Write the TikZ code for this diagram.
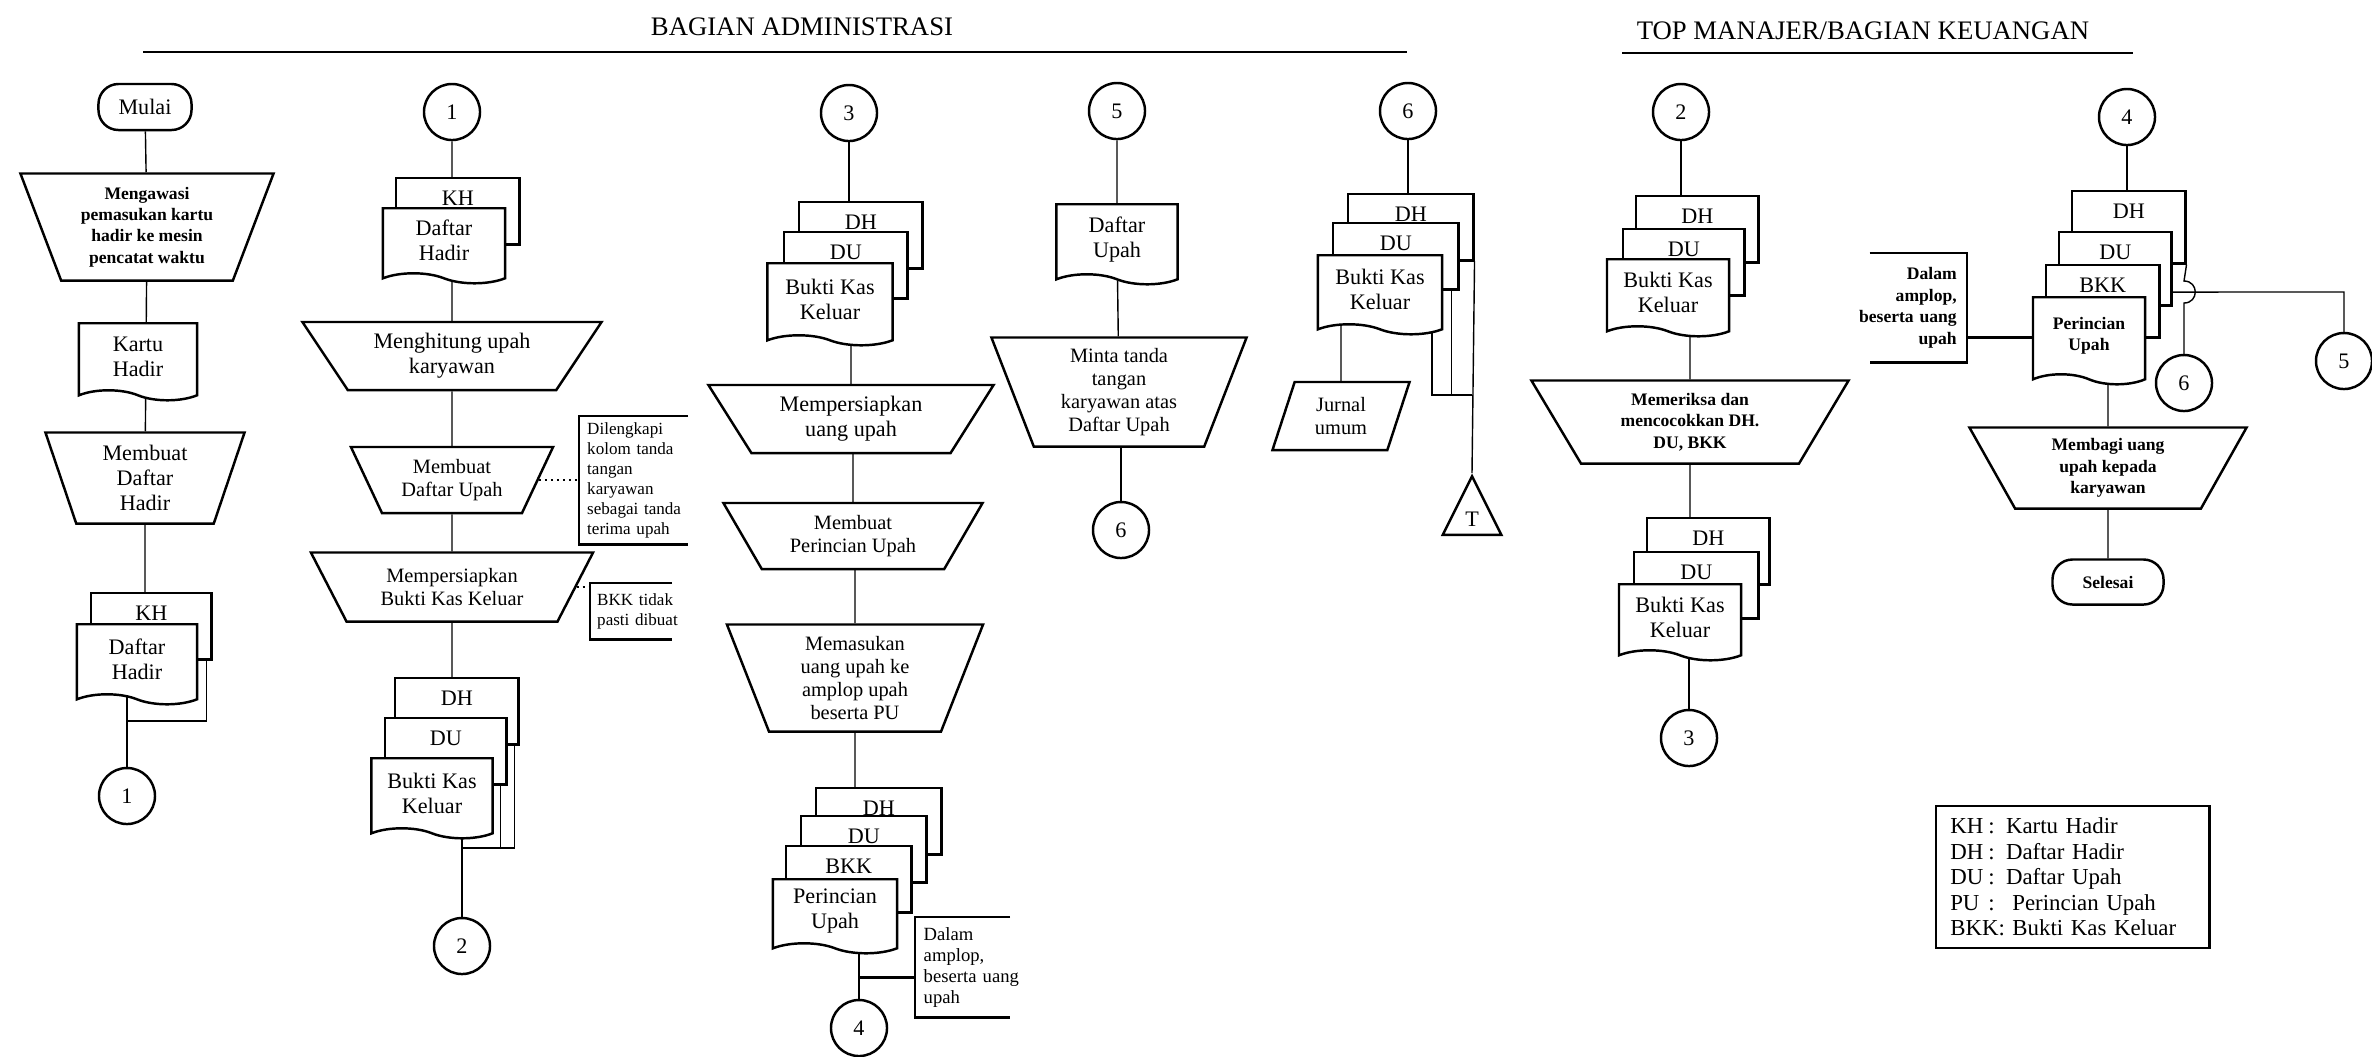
\documentclass[tikz,border=0pt]{standalone}
\usepackage{fontspec}
\setmainfont{Liberation Serif}
\usepackage{tikz}
\usetikzlibrary{shapes.geometric, shapes.symbols, positioning, backgrounds}

\newcommand{\fnorm}{\fontsize{6.3}{7.1}\selectfont}
\newcommand{\fmid}{\fontsize{5.8}{6.6}\selectfont}
\newcommand{\fbold}{\fontsize{5}{6.1}\selectfont\bfseries}
\newcommand{\fnote}{\fontsize{4.85}{5.7}\selectfont}
\newcommand{\fhead}{\fontsize{7.6}{9}\selectfont}

\tikzset{
  terminal/.style={draw, fill=white, rounded corners=0.2cm, align=center},
  manual/.style={draw, fill=white, trapezium, trapezium stretches body,
    shape border rotate=180, inner xsep=2pt, inner ysep=1pt, align=center},
  doc/.style={draw, fill=white, tape, tape bend top=none,
    tape bend bottom=out and in, tape bend height=0.1cm, anchor=north,
    inner sep=1pt, align=center},
  backdoc/.style={draw, fill=white, anchor=north west, minimum width=1.23cm,
    inner ysep=0pt, text height=0.27cm, text depth=0.39cm},
  conn/.style={draw, fill=white, circle, minimum size=0.56cm, inner sep=0pt},
  note/.style={anchor=north west, align=left, font=\fnote, inner ysep=0pt,
    text width=1.3cm},
}

\begin{document}
\begin{tikzpicture}[x=0.01cm, y=-0.01cm, line width=0.7pt, font=\fnorm]
\useasboundingbox (0,0) rectangle (2372,1056);

% judul bagian
\node (hadm) at (802,27) {\fhead BAGIAN ADMINISTRASI};
\node (hkeu) at (1863,31) {\fhead TOP MANAJER/BAGIAN KEUANGAN};
\draw (143,52) -- (1407,52);
\draw (1622,53) -- (2133,53);

% kolom 1
\node[terminal, minimum width=0.93cm, minimum height=0.46cm] (mulai) at (145,107) {Mulai};
\node[manual, trapezium angle=65, minimum width=2.53cm, minimum height=1.07cm, font=\fbold]
  (awasi) at (147,227) {Mengawasi\\pemasukan kartu\\hadir ke mesin\\pencatat waktu};
\node[doc, minimum width=1.18cm, minimum height=0.77cm] (kartu) at (138,322) {Kartu\\Hadir};
\node[manual, trapezium angle=67, minimum width=1.99cm, minimum height=0.91cm]
  (buatdh) at (145,478) {Membuat\\Daftar\\Hadir};
\node[backdoc, minimum width=1.2cm] (kh1) at (90,592) {KH};
\node[doc, minimum width=1.2cm, minimum height=0.8cm] (dh1) at (137,623) {Daftar\\Hadir};
\node[conn] (c1a) at (127,796) {1};

% kolom 2
\node[conn] (c1b) at (452,112) {1};
\node[backdoc] (kh2) at (395,177) {KH};
\node[doc, minimum width=1.22cm, minimum height=0.75cm] (dh2) at (444,207) {Daftar\\Hadir};
\node[manual, trapezium angle=49, minimum width=2.99cm, minimum height=0.68cm]
  (hitung) at (452,356) {Menghitung upah\\karyawan};
\node[manual, trapezium angle=57.5, minimum width=2.02cm, minimum height=0.66cm, font=\fmid]
  (buatdu) at (452,480) {Membuat\\Daftar Upah};
\node[note, inner xsep=0.07cm, minimum height=1.26cm] (ketA) at (579,416)
  {Dilengkapi\\kolom tanda\\tangan\\karyawan\\sebagai tanda\\terima upah};
\node[manual, trapezium angle=51.4, minimum width=2.82cm, minimum height=0.69cm, font=\fmid]
  (siapbkk) at (452,587) {Mempersiapkan\\Bukti Kas Keluar};
\node[note, inner xsep=0.06cm, minimum height=0.54cm] (ketB) at (590,583)
  {BKK tidak\\pasti dibuat};
\node[backdoc] (dh2b) at (394,677) {DH};
\node[backdoc, minimum width=1.21cm] (du2) at (384,717) {DU};
\node[doc, minimum width=1.21cm, minimum height=0.8cm] (bkk2) at (432,757) {Bukti Kas\\Keluar};
\node[conn] (c2a) at (462,946) {2};

% kolom 3
\node[conn] (c3a) at (849,113) {3};
\node[backdoc] (dh3) at (798,201) {DH};
\node[backdoc] (du3) at (783,231) {DU};
\node[doc, minimum width=1.25cm, minimum height=0.82cm] (bkk3) at (830,262) {Bukti Kas\\Keluar};
\node[manual, trapezium angle=50.5, minimum width=2.85cm, minimum height=0.68cm]
  (siapuang) at (851,419) {Mempersiapkan\\uang upah};
\node[manual, trapezium angle=51.8, minimum width=2.59cm, minimum height=0.66cm, font=\fmid]
  (buatpu) at (853,536) {Membuat\\Perincian Upah};
\node[manual, trapezium angle=65.2, minimum width=2.56cm, minimum height=1.07cm, font=\fmid]
  (masuk) at (855,678) {Memasukan\\uang upah ke\\amplop upah\\beserta PU};
\node[backdoc, minimum width=1.25cm] (dh3b) at (815,787) {DH};
\node[backdoc, minimum width=1.25cm] (du3b) at (800,815) {DU};
\node[backdoc, minimum width=1.25cm] (bkk3b) at (785,845) {BKK};
\node[doc, minimum width=1.24cm, minimum height=0.74cm] (pu3) at (835,878) {Perincian\\Upah};
\node[note, inner xsep=0.075cm, minimum height=0.98cm, font=\fontsize{5.3}{6}\selectfont]
  (ketC) at (915,917) {Dalam\\amplop,\\beserta uang\\upah};
\node[conn] (c4a) at (859,1028) {4};

% kolom 4
\node[conn] (c5a) at (1117,111) {5};
\node[doc, minimum width=1.21cm, minimum height=0.8cm] (du4) at (1117,203) {Daftar\\Upah};
\node[manual, trapezium angle=66, minimum width=2.55cm, minimum height=1.09cm, font=\fmid]
  (minta) at (1119,392) {Minta tanda\\tangan\\karyawan atas\\Daftar Upah};
\node[conn] (c6a) at (1121,530) {6};

% kolom 5
\node[conn] (c6b) at (1408,111) {6};
\node[backdoc, minimum width=1.25cm] (dh5) at (1347,193) {DH};
\node[backdoc, minimum width=1.25cm] (du5) at (1332,222) {DU};
\node[doc, minimum width=1.24cm, minimum height=0.79cm] (bkk5) at (1380,254) {Bukti Kas\\Keluar};
\node[draw, fill=white, trapezium, trapezium left angle=70, trapezium right angle=110,
  trapezium stretches body, minimum width=1.37cm, minimum height=0.68cm, font=\fmid,
  align=center] (jurnal) at (1341,416) {Jurnal\\umum};
\node[draw, fill=white, isosceles triangle, isosceles triangle stretches, shape border rotate=90,
  minimum width=0.585cm, minimum height=0.585cm, inner sep=1pt, anchor=apex]
  (arsip) at (1472,473) {T};

% kolom 6
\node[conn] (c2b) at (1681,112) {2};
\node[backdoc, minimum width=1.22cm] (dh6) at (1635,195) {DH};
\node[backdoc, minimum width=1.21cm] (du6) at (1622,228) {DU};
\node[doc, minimum width=1.22cm, minimum height=0.77cm] (bkk6) at (1668,258) {Bukti Kas\\Keluar};
\node[manual, trapezium angle=52.6, minimum width=3.17cm, minimum height=0.83cm, font=\fbold]
  (periksa) at (1690,422) {Memeriksa dan\\mencocokkan DH.\\DU, BKK};
\node[backdoc, minimum width=1.22cm] (dh6b) at (1646,517) {DH};
\node[backdoc, minimum width=1.24cm] (du6b) at (1633,551) {DU};
\node[doc, minimum width=1.22cm, minimum height=0.76cm] (bkk6b) at (1680,583) {Bukti Kas\\Keluar};
\node[conn] (c3b) at (1689,738) {3};

% kolom 7
\node[conn] (c4b) at (2127,117) {4};
\node[backdoc, minimum width=1.13cm, text depth=0.45cm] (dh7) at (2071,190) {DH};
\node[backdoc, minimum width=1.12cm, text depth=0.46cm] (du7) at (2058,231) {DU};
\node[backdoc, minimum width=1.13cm, text depth=0.45cm] (bkk7) at (2045,264) {BKK};
\node[doc, minimum width=1.12cm, minimum height=0.87cm, font=\fbold] (pu7) at (2089,296)
  {Perincian\\Upah};
\node[note, anchor=north east, align=right, text width=1.02cm, inner xsep=0.09cm,
  minimum height=1.07cm, font=\fbold] (ketD) at (1967,253) {Dalam\\amplop,\\beserta uang\\upah};
\node[manual, trapezium angle=55.3, minimum width=2.77cm, minimum height=0.81cm, font=\fbold]
  (bagi) at (2108,468) {Membagi uang\\upah kepada\\karyawan};
\node[terminal, minimum width=1.11cm, minimum height=0.45cm, font=\fbold] (selesai) at (2108,582)
  {Selesai};
\node[conn] (c6c) at (2184,383) {6};
\node[conn] (c5b) at (2344,361) {5};

% keterangan singkatan
\node[draw, anchor=north west, minimum width=2.73cm, minimum height=1.33cm, text width=2.45cm,
  inner xsep=0.14cm, align=left, font=\fontsize{6.5}{7.25}\selectfont] (ket) at (1935,805)
  {\makebox[0.38cm][l]{KH}: Kartu Hadir\\ \makebox[0.38cm][l]{DH}: Daftar Hadir\\
   \makebox[0.38cm][l]{DU}: Daftar Upah\\ \makebox[0.38cm][l]{PU}:\; Perincian Upah\\
   BKK: Bukti Kas Keluar};

% kotak catatan (terbuka)
\draw ([xshift=1.09cm]ketA.north west) -- (ketA.north west) -- (ketA.south west)
  -- ([xshift=1.09cm]ketA.south west);
\draw ([xshift=0.82cm]ketB.north west) -- (ketB.north west) -- (ketB.south west)
  -- ([xshift=0.82cm]ketB.south west);
\draw ([xshift=0.95cm]ketC.north west) -- (ketC.north west) -- (ketC.south west)
  -- ([xshift=0.95cm]ketC.south west);
\draw ([xshift=0.25cm]ketD.north west) -- (ketD.north east) -- (ketD.south east)
  -- ([xshift=0.25cm]ketD.south west);
\draw[densely dotted] (buatdu.east) -- (buatdu.east -| ketA.west);
\draw[densely dotted] (siapbkk.east) -- (siapbkk.east -| ketB.west);
\draw ([yshift=0.4cm]ketC.south west) coordinate (kc) -- (kc -| c4a);
\draw ([yshift=0.25cm]ketD.south east) coordinate (kd) -- (kd -| pu7.west);

% garis alur
\begin{scope}[on background layer]
  \fill[white] (0,0) rectangle (2372,1056);
  % kolom 1
  \draw (mulai) -- (awasi) -- (buatdh) -- (buatdh |- kh1.center);
  \draw (c1a) -- (c1a |- dh1.center);
  \coordinate (j1) at (127,721);
  \draw ([xshift=-0.06cm]kh1.south east) |- (j1);
  % kolom 2
  \draw (c1b) -- (hitung) -- (buatdu) -- (siapbkk) -- (siapbkk |- dh2b.center);
  \draw (c2a) -- (c2a |- bkk2.center);
  \coordinate (j2) at (462,848);
  \draw ([xshift=-0.05cm]dh2b.south east) |- (j2);
  \draw ([xshift=-0.07cm]du2.south east) |- (j2);
  % kolom 3
  \draw (c3a) -- (c3a |- dh3.center);
  \draw (siapuang) -- (siapuang |- bkk3.center);
  \draw (buatpu) -- (buatpu |- siapuang.center);
  \draw (masuk) -- (masuk |- buatpu.center);
  \draw (masuk) -- (masuk |- dh3b.center);
  \draw (c4a) -- (c4a |- pu3.center);
  % kolom 4
  \draw (c5a) -- (du4) -- (minta);
  \draw (c6a) -- (c6a |- minta.center);
  % kolom 5
  \draw (c6b) -- (c6b |- dh5.center);
  \draw (jurnal) -- (jurnal |- bkk5.center);
  \coordinate (j5) at (1472,395);
  \draw ([xshift=0.52cm]bkk5.center) |- (j5);
  \draw ([xshift=-0.08cm]du5.south east) |- (j5);
  \draw (dh5.south east) -- (arsip.apex);
  % kolom 6
  \draw (c2b) -- (c2b |- dh6.center);
  \draw (periksa) -- (periksa |- bkk6.center);
  \draw (periksa) -- (periksa |- dh6b.center);
  \draw (c3b) -- (c3b |- bkk6b.center);
  % kolom 7
  \draw (c4b) -- (c4b |- dh7.center);
  \draw (bagi) -- (bagi |- pu7.center);
  \draw (bagi) -- (selesai);
  \coordinate (h7) at (2344,292);
  \draw ([yshift=-0.61cm]du7.north east) -- (h7) -- (c5b);
  \coordinate (hopa) at (2184,281);
  \coordinate (hopb) at (2184,303);
  \draw (dh7.south east) -- (hopa) .. controls (2199,281) and (2199,303) .. (hopb) -- (c6c);
\end{scope}
\end{tikzpicture}
\end{document}
